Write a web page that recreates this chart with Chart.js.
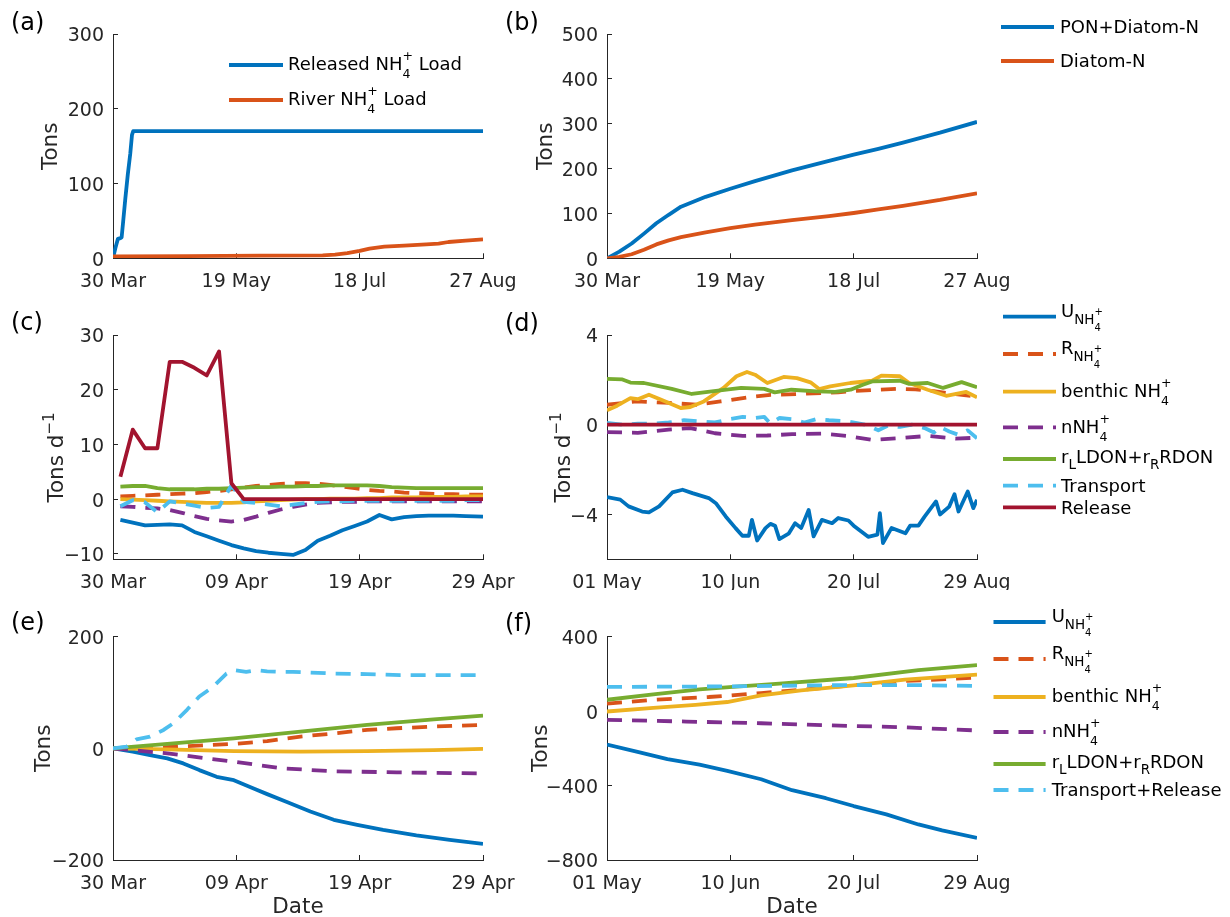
<!DOCTYPE html>
<html>
<head>
<meta charset="utf-8">
<script src="https://cdn.jsdelivr.net/npm/chart.js@4.4.1/dist/chart.umd.min.js"></script>
<style>
  body { margin: 0; background: #fff; width: 1230px; height: 917px; position: relative; overflow: hidden; }
  canvas { position: absolute; }
</style>
</head>
<body>
<canvas id="pa"></canvas>
<canvas id="pb"></canvas>
<canvas id="pc"></canvas>
<canvas id="pd"></canvas>
<canvas id="pe"></canvas>
<canvas id="pf"></canvas>
<script>
// ---- data (days since start of each panel's period) ----
// (a) loads, 30 Mar - 27 Aug
const aDays = [0, 1, 2, 3, 3.5, 4, 5, 6, 7, 7.7, 8.2, 150];
const releasedLoad = [0, 14, 26, 27, 28, 45, 80, 112, 140, 165, 170, 170];
const riverDays = [0, 30, 60, 85, 90, 95, 100, 104, 110, 118, 127, 132, 136, 143, 150];
const riverLoad = [2.5, 3, 3.5, 4, 5, 7, 10, 13, 15.5, 17, 18.7, 19.5, 21.8, 23.5, 25.4];

// (b) particulate N
const bDays = [0, 5, 10, 15, 20, 25, 30, 40, 50, 60, 75, 90, 100, 110, 120, 135, 150];
const ponDiatom = [0, 15, 33, 55, 78, 97, 115, 137, 155, 172, 196, 217, 231, 244, 258, 280, 304];
const diatomN = [0, 3, 9, 19, 31, 40, 47, 58, 67, 75, 85, 94, 101, 109, 117, 130, 145];

// (c) daily rates, 30 Mar - 29 Apr
const cDays = [0.6, 1.6, 2.6, 3.6, 4.6, 5.6, 6.6, 7.6, 8.6, 9.6, 10.6, 11.6, 12.6, 13.6, 14.6,
  15.6, 16.6, 17.6, 18.6, 19.6, 20.6, 21.6, 22.6, 23.6, 24.6, 25.6, 26.6, 27.6, 28.6, 30];
const cU = [-3.8, -4.3, -4.8, -4.7, -4.6, -4.8, -6.0, -6.8, -7.6, -8.4, -9.0, -9.5, -9.8, -10.0, -10.2,
  -9.3, -7.6, -6.7, -5.7, -4.9, -4.1, -2.9, -3.7, -3.3, -3.1, -3.0, -3.0, -3.0, -3.1, -3.2];
const cR = [0.5, 0.6, 0.7, 0.8, 0.9, 1.0, 1.1, 1.3, 1.5, 1.8, 2.1, 2.4, 2.6, 2.8, 2.9,
  2.9, 2.8, 2.6, 2.3, 2.0, 1.7, 1.5, 1.4, 1.2, 1.1, 1.0, 0.9, 0.9, 0.8, 0.8];
const cBenthic = [0.0, -0.1, -0.2, -0.3, -0.4, -0.5, -0.6, -0.7, -0.7, -0.7, -0.6, -0.4, -0.3, -0.2, -0.1,
  0, 0, 0.1, 0.1, 0.1, 0.2, 0.2, 0.3, 0.3, 0.3, 0.4, 0.4, 0.4, 0.5, 0.5];
const cNit = [-1.3, -1.4, -1.6, -1.7, -2.0, -2.5, -3.1, -3.6, -3.9, -4.1, -3.8, -3.2, -2.5, -1.9, -1.4,
  -1.0, -0.7, -0.6, -0.5, -0.5, -0.4, -0.4, -0.4, -0.4, -0.4, -0.4, -0.4, -0.4, -0.4, -0.4];
const cDon = [2.3, 2.4, 2.4, 2.0, 1.8, 1.8, 1.8, 1.9, 1.9, 2.0, 2.1, 2.2, 2.2, 2.3, 2.3,
  2.4, 2.4, 2.5, 2.5, 2.5, 2.5, 2.4, 2.2, 2.1, 2.0, 2.0, 2.0, 2.0, 2.0, 2.0];
const cTransport = [-1.3, -0.2, -0.6, -2.4, -0.4, -0.8, -1.2, -1.6, -1.4, 2.5, -0.5, -0.7, -1.0, -1.3, -1.0,
  -0.7, -0.5, -0.4, -0.4, -0.3, -0.3, -0.3, -0.3, -0.3, -0.3, -0.3, -0.3, -0.3, -0.2, -0.2];
const cRelease = [4.1, 12.7, 9.3, 9.3, 25.1, 25.1, 24.0, 22.6, 27.0, 2.9, 0, 0, 0, 0, 0,
  0, 0, 0, 0, 0, 0, 0, 0, 0, 0, 0, 0, 0, 0, 0];

// (d) daily rates, 01 May - 29 Aug
const dUDays = [0, 4.3, 7, 11.4, 13.6, 16.9, 21.2, 24.5, 27.7, 33, 35.3, 38.5, 41.7, 43.9, 46, 47, 48.7,
  51.4, 53, 54.5, 55.9, 58.9, 61, 63, 65.4, 67, 69.7, 73, 75, 78.3, 80, 84.7, 87.7, 88.5, 89.5, 92.3,
  96.8, 98.3, 101, 103, 106.7, 108, 111, 112.7, 114, 117, 118.8, 120];
const dU = [-3.23, -3.34, -3.64, -3.87, -3.91, -3.64, -3.02, -2.9, -3.05, -3.27, -3.5, -4.09, -4.61, -4.95,
  -4.95, -4.24, -5.16, -4.61, -4.42, -4.5, -5.1, -4.86, -4.39, -4.6, -3.8, -4.98, -4.24, -4.39, -4.16,
  -4.27, -4.5, -5.0, -4.9, -3.94, -5.28, -4.6, -4.84, -4.5, -4.5, -4.1, -3.42, -4.0, -3.65, -3.1, -3.87,
  -2.98, -3.72, -3.35];
const dRDays = [0, 9.6, 20.4, 29, 36.8, 46.5, 53, 64, 75, 79, 86, 94, 100, 106, 113, 120];
const dR = [0.89, 1.04, 0.97, 0.89, 1.04, 1.23, 1.33, 1.38, 1.44, 1.49, 1.55, 1.6, 1.58, 1.5, 1.36, 1.26];
const dBenthicDays = [0, 3.3, 7.6, 10, 13.6, 17.4, 23.9, 27, 31.4, 37.8, 42, 45.4, 48, 52, 57.3, 61.6,
  66, 68.8, 72.4, 78.9, 86, 89, 95, 98, 104, 110, 116.5, 120];
const dBenthic = [0.64, 0.85, 1.19, 1.14, 1.34, 1.12, 0.74, 0.79, 1.04, 1.64, 2.16, 2.35, 2.23, 1.86,
  2.13, 2.08, 1.89, 1.59, 1.71, 1.86, 1.96, 2.19, 2.16, 1.86, 1.56, 1.29, 1.46, 1.22];
const dNitDays = [0, 10, 20, 27, 35, 44, 52, 60, 70, 78, 86, 95, 104, 113, 120];
const dNit = [-0.33, -0.36, -0.22, -0.15, -0.38, -0.5, -0.48, -0.42, -0.4, -0.5, -0.68, -0.6, -0.5, -0.62, -0.58];
const dDonDays = [0, 5, 7.6, 12, 21, 27.5, 34, 43.5, 51, 54.4, 59.8, 68, 74, 79, 83, 86, 95, 98, 104, 109, 115, 120];
const dDon = [2.04, 2.02, 1.88, 1.86, 1.6, 1.37, 1.49, 1.64, 1.6, 1.44, 1.56, 1.49, 1.46, 1.56, 1.78,
  1.93, 1.96, 1.82, 1.86, 1.64, 1.9, 1.67];
const dTransportDays = [0, 5, 10, 15, 20, 25, 30, 35, 40, 44, 48, 51, 53, 56, 60, 64, 68, 72, 78, 84,
  88, 91, 95, 99, 103, 106, 108, 111, 114, 117, 120];
const dTransport = [0.08, 0.0, 0.05, 0.05, 0.1, 0.2, 0.15, 0.1, 0.25, 0.35, 0.3, 0.35, 0.05, 0.3, 0.25,
  0.1, 0.25, 0.2, 0.15, 0.0, -0.25, -0.05, -0.1, 0.0, -0.15, -0.35, -0.1, -0.3, -0.45, -0.25, -0.6];
const dReleaseDays = [0, 120];
const dRelease = [0, 0];

// (e) cumulative, 30 Mar - 29 Apr
const eUDays = [0, 1.6, 3, 4.4, 5.7, 7, 8.4, 9.8, 11.4, 12.5, 14.1, 16, 17.9, 19.8, 21.9, 24.6, 27.3, 30];
const eU = [0, -6, -12, -18, -27, -39, -51, -57, -72, -82, -96, -113, -128, -137, -146, -156, -164, -171];
const eRDays = [0, 3, 6, 9.8, 12.5, 15.2, 18, 20.6, 23, 26, 30];
const eR = [0, 1, 4, 8, 13, 21, 27, 33, 36, 39, 42];
const eSlowDays = [0, 4.4, 9.8, 15.2, 20.6, 26, 30];
const eBenthic = [0, -2, -5, -6, -5, -3, -1];
const eDon = [0, 8, 18, 30, 42, 52, 58.5];
const eNitDays = [0, 4.4, 9.8, 13.8, 17.9, 23, 30];
const eNit = [0, -9, -24, -36, -41, -43, -45];
const eTransportDays = [0, 1.1, 1.9, 3, 4.1, 4.9, 6, 7, 8.1, 9.2, 9.8, 10.8, 11.6, 12.5, 13.5, 14.6,
  15.7, 17.9, 20.6, 23.3, 26, 30];
const eTransport = [0, 3, 16, 21, 33, 45, 69, 93, 110, 134, 140, 137, 140, 138, 137, 137, 136, 134,
  133, 131, 131, 131];

// (f) cumulative, 01 May - 29 Aug
const fUDays = [0, 10.6, 19.6, 30, 39, 50, 60, 71, 80, 90.6, 101, 108.7, 120];
const fU = [-180, -222, -258, -288, -321, -366, -425, -468, -510, -555, -609, -641, -681];
const fRDays = [0, 15, 33, 50, 63, 80, 96.6, 120];
const fR = [40, 61, 76, 97, 115, 139, 162, 180];
const fBenthicDays = [0, 15, 28.7, 39, 50, 63, 80, 96.6, 120];
const fBenthic = [-2, 18, 34, 49, 85, 112, 139, 169, 196];
const fNitDays = [0, 25.7, 50, 71, 95, 120];
const fNit = [-47, -56, -65, -76, -86, -104];
const fDonDays = [0, 15, 30, 40.8, 55.9, 80, 101, 120];
const fDon = [61, 90, 117, 130, 148, 178, 220, 247];
const fTransportDays = [0, 40, 70, 100, 120];
const fTransport = [130, 133, 139, 140, 135];

// ---- ticks ----
const longTicks = [0, 50, 100, 150];
const longLabels = ['30 Mar', '19 May', '18 Jul', '27 Aug'];
const aprTicks = [0, 10, 20, 30];
const aprLabels = ['30 Mar', '09 Apr', '19 Apr', '29 Apr'];
const sumTicks = [0, 40, 80, 120];
const sumLabels = ['01 May', '10 Jun', '20 Jul', '29 Aug'];

const C = {
  blue: '#0072BD', orange: '#D95319', yellow: '#EDB120', purple: '#7E2F8E',
  green: '#77AC30', cyan: '#4DBEEE', red: '#A2142F'
};
const FAMILY = '"DejaVu Sans"';
const INK = '#262626';
const LINE_W = 3.8;
const DASH = [15, 10];

// legend labels with sub/superscripts: [text, dy, size, stackOnPrevious]
const L = 18;
const lbl = {
  u: [['U', 0, L], ['NH', 7, 13.5], ['+', -2, 10], ['4', 14.5, 10, true]],
  r: [['R', 0, L], ['NH', 7, 13.5], ['+', -2, 10], ['4', 14.5, 10, true]],
  benthic: [['benthic NH', 0, L], ['+', -10, 12.5], ['4', 8, 12.5, true]],
  nit: [['nNH', 0, L], ['+', -10, 12.5], ['4', 8, 12.5, true]],
  don: [['r', 0, L], ['L', 6.5, 13.5], ['LDON+r', 0, L], ['R', 6.5, 13.5], ['RDON', 0, L]],
  transport: [['Transport', 0, L]],
  release: [['Release', 0, L]],
  transRel: [['Transport+Release', 0, L]],
  released: [['Released NH', 0, L], ['+', -10, 12.5], ['4', 8, 12.5, true], [' Load', 0, L]],
  river: [['River NH', 0, L], ['+', -10, 12.5], ['4', 8, 12.5, true], [' Load', 0, L]],
  pon: [['PON+Diatom-N', 0, L]],
  diatom: [['Diatom-N', 0, L]]
};
const tonsTitle = [['Tons', 0, 21.5]];
const rateTitle = [['Tons d', 0, 21.5], ['\u22121', -9, 15]];

function drawRich(ctx, x, y, parts) {
  let cx = x, start = x, prevEnd = x;
  parts.forEach(([t, dy, size, stack]) => {
    ctx.font = size + 'px ' + FAMILY;
    const w = ctx.measureText(t).width;
    const sx = stack ? start : cx;
    ctx.fillText(t, sx, y + dy);
    if (stack) {
      cx = Math.max(prevEnd, sx + w);
    } else {
      start = sx;
      cx = sx + w;
    }
    prevEnd = cx;
  });
  return cx - x;
}

function richWidth(ctx, parts) {
  ctx.save();
  ctx.globalAlpha = 0;
  const w = drawRich(ctx, 0, 0, parts);
  ctx.restore();
  return w;
}

function richMid(parts) {
  let top = Infinity, bot = -Infinity;
  parts.forEach(([t, dy, size]) => {
    top = Math.min(top, dy - 0.93 * size);
    bot = Math.max(bot, dy + 0.24 * size);
  });
  return (top + bot) / 2;
}

function overlay(box, cfg) {
  return {
    id: 'overlay',
    afterDraw(chart) {
      const ctx = chart.ctx;
      const ox = box[0], oy = box[1];
      ctx.save();
      ctx.textBaseline = 'alphabetic';
      ctx.textAlign = 'left';
      ctx.fillStyle = '#000';
      ctx.font = '24px ' + FAMILY;
      ctx.fillText(cfg.letter[0], cfg.letter[1] - ox, cfg.letter[2] - oy);

      ctx.fillStyle = INK;
      const yt = cfg.yTitle;
      ctx.save();
      ctx.translate(yt.x - ox, yt.y - oy);
      ctx.rotate(-Math.PI / 2);
      drawRich(ctx, -richWidth(ctx, yt.parts) / 2, 0, yt.parts);
      ctx.restore();

      if (cfg.xTitle) {
        ctx.font = '21.5px ' + FAMILY;
        ctx.textAlign = 'center';
        ctx.fillText('Date', cfg.xTitle[0] - ox, cfg.xTitle[1] - oy);
        ctx.textAlign = 'left';
      }

      const lg = cfg.legend;
      lg.rows.forEach((row, i) => {
        const s = cfg.series[i];
        ctx.save();
        ctx.strokeStyle = s.color;
        ctx.lineWidth = LINE_W;
        ctx.setLineDash(s.dash ? DASH : []);
        ctx.beginPath();
        ctx.moveTo(lg.x0 - ox, row.y - oy);
        ctx.lineTo(lg.x1 - ox, row.y - oy);
        ctx.stroke();
        ctx.restore();
        ctx.fillStyle = '#000';
        drawRich(ctx, lg.tx - ox, row.y - oy - richMid(row.parts), row.parts);
      });
      ctx.restore();
    }
  };
}

function panel(id, box, area, cfg) {
  const cv = document.getElementById(id);
  cv.width = box[2];
  cv.height = box[3];
  cv.style.left = box[0] + 'px';
  cv.style.top = box[1] + 'px';
  const yW = area[0] - box[0];
  const xH = box[1] + box[3] - area[3];
  const tickFont = { family: FAMILY, size: 19 };
  const n = cfg.series.length;
  return new Chart(cv, {
    type: 'line',
    data: {
      datasets: cfg.series.map((s, i) => ({
        data: s.x.map((x, j) => ({ x: x, y: s.y[j] })),
        borderColor: s.color,
        borderWidth: LINE_W,
        borderDash: s.dash ? DASH : [],
        borderJoinStyle: 'round',
        pointRadius: 0,
        tension: 0,
        fill: false,
        order: n - i
      }))
    },
    options: {
      responsive: false,
      animation: false,
      layout: { padding: { top: area[1] - box[1], right: box[0] + box[2] - area[2], left: 0, bottom: 0 } },
      plugins: { legend: { display: false }, tooltip: { enabled: false } },
      scales: {
        x: {
          type: 'linear',
          min: cfg.xTicks[0],
          max: cfg.xTicks[cfg.xTicks.length - 1],
          afterBuildTicks: s => { s.ticks = cfg.xTicks.map(v => ({ value: v })); },
          afterFit: s => { s.height = xH; },
          ticks: {
            font: tickFont, color: INK, padding: 17.5, maxRotation: 0, autoSkip: false,
            callback: v => cfg.xLabels[cfg.xTicks.indexOf(v)]
          },
          grid: { drawOnChartArea: false, tickLength: -5, color: INK, lineWidth: 1 },
          border: { color: INK, width: 1 }
        },
        y: {
          min: cfg.yMin,
          max: cfg.yMax,
          afterBuildTicks: s => { s.ticks = cfg.yTicks.map(v => ({ value: v })); },
          afterFit: s => { s.width = yW; },
          ticks: {
            font: tickFont, color: INK, padding: 14, labelOffset: 2.5,
            callback: v => String(v).replace('-', '\u2212')
          },
          grid: { drawOnChartArea: false, tickLength: -5, color: INK, lineWidth: 1 },
          border: { color: INK, width: 1 }
        }
      }
    },
    plugins: [overlay(box, cfg)]
  });
}

panel('pa', [0, 0, 560, 295], [113, 34, 483, 258.3], {
  xTicks: longTicks, xLabels: longLabels, yMin: 0, yMax: 300, yTicks: [0, 100, 200, 300],
  letter: ['(a)', 11, 30.4],
  yTitle: { x: 56.7, y: 146.3, parts: tonsTitle },
  series: [
    { x: aDays, y: releasedLoad, color: C.blue },
    { x: riverDays, y: riverLoad, color: C.orange }
  ],
  legend: { x0: 229, x1: 283, tx: 288, rows: [{ y: 65, parts: lbl.released }, { y: 100, parts: lbl.river }] }
});

panel('pb', [500, 0, 730, 295], [607, 34, 977, 258.3], {
  xTicks: longTicks, xLabels: longLabels, yMin: 0, yMax: 500, yTicks: [0, 100, 200, 300, 400, 500],
  letter: ['(b)', 505, 30],
  yTitle: { x: 551.7, y: 146.3, parts: tonsTitle },
  series: [
    { x: bDays, y: ponDiatom, color: C.blue },
    { x: bDays, y: diatomN, color: C.orange }
  ],
  legend: { x0: 1001, x1: 1054, tx: 1060, rows: [{ y: 27, parts: lbl.pon }, { y: 61, parts: lbl.diatom }] }
});

panel('pc', [0, 295, 560, 295], [113, 335, 483, 559.3], {
  xTicks: aprTicks, xLabels: aprLabels, yMin: -11, yMax: 30, yTicks: [-10, 0, 10, 20, 30],
  letter: ['(c)', 11, 330.4],
  yTitle: { x: 63.3, y: 457.5, parts: rateTitle },
  series: [
    { x: cDays, y: cU, color: C.blue },
    { x: cDays, y: cR, color: C.orange, dash: true },
    { x: cDays, y: cBenthic, color: C.yellow },
    { x: cDays, y: cNit, color: C.purple, dash: true },
    { x: cDays, y: cDon, color: C.green },
    { x: cDays, y: cTransport, color: C.cyan, dash: true },
    { x: cDays, y: cRelease, color: C.red }
  ],
  legend: { x0: 0, x1: 0, tx: 0, rows: [] }
});

panel('pd', [500, 295, 730, 295], [607, 335, 977, 559.3], {
  xTicks: sumTicks, xLabels: sumLabels, yMin: -6, yMax: 4, yTicks: [-4, 0, 4],
  letter: ['(d)', 505, 330.5],
  yTitle: { x: 569.8, y: 457.5, parts: rateTitle },
  series: [
    { x: dUDays, y: dU, color: C.blue },
    { x: dRDays, y: dR, color: C.orange, dash: true },
    { x: dBenthicDays, y: dBenthic, color: C.yellow },
    { x: dNitDays, y: dNit, color: C.purple, dash: true },
    { x: dDonDays, y: dDon, color: C.green },
    { x: dTransportDays, y: dTransport, color: C.cyan, dash: true },
    { x: dReleaseDays, y: dRelease, color: C.red }
  ],
  legend: {
    x0: 1003, x1: 1056, tx: 1061,
    rows: [
      { y: 316.7, parts: lbl.u }, { y: 354, parts: lbl.r }, { y: 391.7, parts: lbl.benthic },
      { y: 427.3, parts: lbl.nit }, { y: 459, parts: lbl.don }, { y: 485.7, parts: lbl.transport },
      { y: 507.3, parts: lbl.release }
    ]
  }
});

panel('pe', [0, 590, 560, 327], [113, 636.7, 483, 860], {
  xTicks: aprTicks, xLabels: aprLabels, yMin: -200, yMax: 200, yTicks: [-200, 0, 200],
  letter: ['(e)', 11, 630.4],
  yTitle: { x: 50, y: 748.3, parts: tonsTitle },
  xTitle: [298, 913.3],
  series: [
    { x: eUDays, y: eU, color: C.blue },
    { x: eRDays, y: eR, color: C.orange, dash: true },
    { x: eSlowDays, y: eBenthic, color: C.yellow },
    { x: eNitDays, y: eNit, color: C.purple, dash: true },
    { x: eSlowDays, y: eDon, color: C.green },
    { x: eTransportDays, y: eTransport, color: C.cyan, dash: true }
  ],
  legend: { x0: 0, x1: 0, tx: 0, rows: [] }
});

panel('pf', [500, 590, 730, 327], [607, 636.7, 977, 860], {
  xTicks: sumTicks, xLabels: sumLabels, yMin: -800, yMax: 400, yTicks: [-800, -400, 0, 400],
  letter: ['(f)', 505, 630.5],
  yTitle: { x: 546.6, y: 748.3, parts: tonsTitle },
  xTitle: [792, 913.3],
  series: [
    { x: fUDays, y: fU, color: C.blue },
    { x: fRDays, y: fR, color: C.orange, dash: true },
    { x: fBenthicDays, y: fBenthic, color: C.yellow },
    { x: fNitDays, y: fNit, color: C.purple, dash: true },
    { x: fDonDays, y: fDon, color: C.green },
    { x: fTransportDays, y: fTransport, color: C.cyan, dash: true }
  ],
  legend: {
    x0: 993.5, x1: 1045.6, tx: 1051.7,
    rows: [
      { y: 622, parts: lbl.u }, { y: 659, parts: lbl.r }, { y: 697, parts: lbl.benthic },
      { y: 732, parts: lbl.nit }, { y: 764, parts: lbl.don }, { y: 790, parts: lbl.transRel }
    ]
  }
});
</script>
</body>
</html>
